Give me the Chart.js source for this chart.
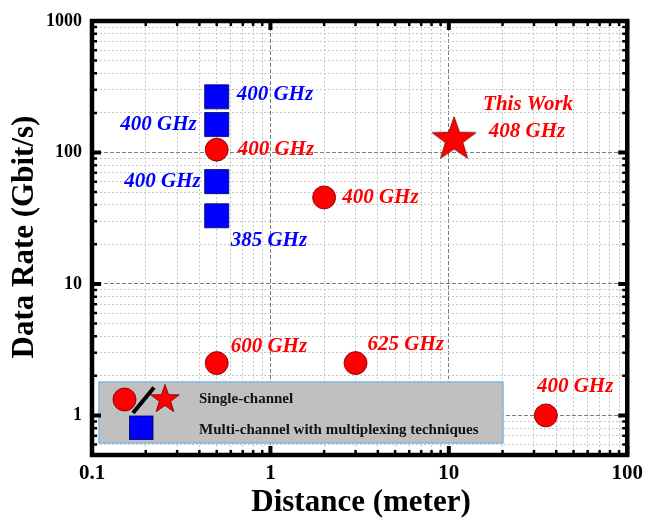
<!DOCTYPE html>
<html>
<head>
<meta charset="utf-8">
<script src="https://cdn.jsdelivr.net/npm/chart.js@4/dist/chart.umd.min.js"></script>
<style>
  html, body { margin: 0; padding: 0; background: #fff; }
  canvas { display: block; }
</style>
</head>
<body>
<canvas id="graphique" width="649" height="519"></canvas>
<script>
// Données (distance en mètres, débit en Gbit/s)
const distanceSingle = [0.5, 2, 0.5, 3, 35];
const debitSingle = [105, 45.5, 2.5, 2.5, 1];
const freqSingle = ["400 GHz", "400 GHz", "600 GHz", "625 GHz", "400 GHz"];

const distanceMulti = [0.5, 0.5, 0.5, 0.5];
const debitMulti = [265, 163, 60, 33];
const freqMulti = ["400 GHz", "400 GHz", "400 GHz", "385 GHz"];

const distanceWork = [10.7];
const debitWork = [125];
const texteWork = ["This Work", "408 GHz"];

const xTickLabels = ["0.1", "1", "10", "100"];   // 10^-1 .. 10^2
const yTickLabels = ["1", "10", "100", "1000"];  // 10^0 .. 10^3
const legendeTextes = ["Single-channel", "Multi-channel with multiplexing techniques"];

// Placement des étiquettes (décalage en pixels par rapport au point)
const placeSingle = [
    { dx: 21, dy: 0, align: "left" },
    { dx: 18, dy: 0, align: "left" },
    { dx: 14, dy: -17, align: "left" },
    { dx: 12, dy: -19, align: "left" },
    { dx: -9, dy: -29, align: "left" },
];
const placeMulti = [
    { dx: 20, dy: -2, align: "left" },
    { dx: -20, dy: 0, align: "right" },
    { dx: -16, dy: 0, align: "right" },
    { dx: 14, dy: 25, align: "left" },
];
const placeWork = [
    { dx: 74, dy: -35, align: "center" },
    { dx: 73, dy: -8, align: "center" },
];

const ROUGE = "#ff0000";
const BLEU = "#0000ff";
const SERIF = '"Liberation Serif", "Times New Roman", serif';

function estDecade(v) {
    const l = Math.log10(v);
    return Math.abs(l - Math.round(l)) < 1e-9;
}

function graduationsLog(min, max) {
    // 1..9 x 10^n entre min et max
    const liste = [];
    for (let e = Math.floor(Math.log10(min)); e <= Math.ceil(Math.log10(max)); e++) {
        for (let s = 1; s <= 9; s++) {
            const v = parseFloat((s * Math.pow(10, e)).toPrecision(6));
            if (v >= min - 1e-12 && v <= max + 1e-12) liste.push(v);
        }
    }
    return liste;
}

function tracerEtoile(ctx, cx, cy, R, r) {
    ctx.beginPath();
    for (let i = 0; i < 10; i++) {
        const rad = i % 2 === 0 ? R : r;
        const a = -Math.PI / 2 + i * Math.PI / 5;
        ctx.lineTo(cx + rad * Math.cos(a), cy + rad * Math.sin(a));
    }
    ctx.closePath();
}

function imageEtoile(R) {
    const c = document.createElement("canvas");
    const taille = Math.ceil(R * 2 + 4);
    c.width = taille;
    c.height = taille;
    const g = c.getContext("2d");
    tracerEtoile(g, taille / 2, taille / 2, R, R * 0.4);
    g.fillStyle = ROUGE;
    g.fill();
    g.strokeStyle = "rgba(110,0,0,0.8)";
    g.lineWidth = 1;
    g.stroke();
    return c;
}

const etoile = imageEtoile(23);

function echelle(min, max, labels, decalage, pad, taille) {
    return {
        type: "logarithmic",
        min: min,
        max: max,
        afterBuildTicks: (scale) => {
            scale.ticks = graduationsLog(min, max).map(v => ({ value: v }));
        },
        grid: {
            drawTicks: false,
            color: (c) => (c.tick && estDecade(c.tick.value)) ? "#7d7d7d" : "#c6c6c6",
            lineWidth: 1,
        },
        border: {
            display: false,
            dash: (c) => (c.tick && estDecade(c.tick.value)) ? [4, 2] : [2, 2],
        },
        ticks: {
            autoSkip: false,
            maxRotation: 0,
            padding: pad,
            color: "#000",
            font: { family: SERIF, size: taille, weight: "bold" },
            callback: (v) => estDecade(v) ? labels[Math.round(Math.log10(v)) + decalage] : "",
        },
    };
}

const etiquettesPlugin = {
    id: "etiquettes",
    afterDatasetsDraw(chart) {
        const ctx = chart.ctx;
        const x = chart.scales.x;
        const y = chart.scales.y;

        // légende en boîte grise
        const bx = 99, by = 382;
        ctx.save();
        ctx.fillStyle = "#c0c0c0";
        ctx.fillRect(bx, by, 404, 61);
        ctx.strokeStyle = "#7fb6e0";
        ctx.lineWidth = 1.5;
        ctx.strokeRect(bx, by, 404, 61);

        ctx.beginPath();
        ctx.arc(bx + 25.5, by + 17.5, 11.5, 0, Math.PI * 2);
        ctx.fillStyle = ROUGE;
        ctx.fill();
        ctx.strokeStyle = "rgba(110,0,0,0.8)";
        ctx.lineWidth = 1;
        ctx.stroke();

        ctx.beginPath();
        ctx.moveTo(bx + 34, by + 31);
        ctx.lineTo(bx + 55, by + 5.5);
        ctx.strokeStyle = "#000";
        ctx.lineWidth = 4;
        ctx.stroke();

        tracerEtoile(ctx, bx + 66, by + 17.5, 15, 6);
        ctx.fillStyle = ROUGE;
        ctx.fill();
        ctx.strokeStyle = "rgba(110,0,0,0.8)";
        ctx.lineWidth = 1;
        ctx.stroke();

        ctx.fillStyle = BLEU;
        ctx.fillRect(bx + 30.5, by + 34, 23.5, 23.5);
        ctx.strokeStyle = "rgba(0,0,80,0.8)";
        ctx.strokeRect(bx + 30.5, by + 34, 23.5, 23.5);

        ctx.fillStyle = "#111";
        ctx.font = "bold 15px " + SERIF;
        ctx.textAlign = "left";
        ctx.textBaseline = "middle";
        ctx.fillText(legendeTextes[0], bx + 100, by + 17.5);
        ctx.fillText(legendeTextes[1], bx + 100, by + 48);

        // étiquettes de fréquence
        ctx.font = "italic bold 21px " + SERIF;
        const ecrire = (texte, vx, vy, p, couleur) => {
            ctx.fillStyle = couleur;
            ctx.textAlign = p.align;
            ctx.fillText(texte, x.getPixelForValue(vx) + p.dx, y.getPixelForValue(vy) + p.dy);
        };
        freqSingle.forEach((t, i) => ecrire(t, distanceSingle[i], debitSingle[i], placeSingle[i], ROUGE));
        freqMulti.forEach((t, i) => ecrire(t, distanceMulti[i], debitMulti[i], placeMulti[i], BLEU));
        texteWork.forEach((t, i) => ecrire(t, distanceWork[0], debitWork[0], placeWork[i], ROUGE));
        ctx.restore();
    },
    afterDraw(chart) {
        const ctx = chart.ctx;
        const a = chart.chartArea;
        ctx.save();
        ctx.strokeStyle = "#000";

        // graduations vers l'intérieur, sur les quatre côtés
        chart.scales.x.ticks.forEach(t => {
            const px = chart.scales.x.getPixelForValue(t.value);
            const maj = estDecade(t.value);
            const l = maj ? 9 : 5;
            ctx.lineWidth = maj ? 4 : 2.5;
            ctx.beginPath();
            ctx.moveTo(px, a.bottom); ctx.lineTo(px, a.bottom - l);
            ctx.moveTo(px, a.top); ctx.lineTo(px, a.top + l);
            ctx.stroke();
        });
        chart.scales.y.ticks.forEach(t => {
            const py = chart.scales.y.getPixelForValue(t.value);
            const maj = estDecade(t.value);
            const l = maj ? 9 : 5;
            ctx.lineWidth = maj ? 4 : 2.5;
            ctx.beginPath();
            ctx.moveTo(a.left, py); ctx.lineTo(a.left + l, py);
            ctx.moveTo(a.right, py); ctx.lineTo(a.right - l, py);
            ctx.stroke();
        });

        ctx.lineWidth = 4.5;
        ctx.strokeRect(a.left, a.top, a.right - a.left, a.bottom - a.top);

        // titres des axes
        ctx.fillStyle = "#000";
        ctx.font = "bold 31px " + SERIF;
        ctx.textAlign = "center";
        ctx.textBaseline = "middle";
        ctx.fillText("Distance (meter)", 361, 503);
        ctx.translate(25, 237);
        ctx.rotate(-Math.PI / 2);
        ctx.fillText("Data Rate (Gbit/s)", 0, 0);
        ctx.restore();
    },
};

const canvas = document.getElementById("graphique");

new Chart(canvas.getContext("2d"), {
    type: "scatter",
    data: {
        datasets: [
            {
                label: "Multi-channel",
                data: distanceMulti.map((d, i) => ({ x: d, y: debitMulti[i] })),
                pointStyle: "rect",
                pointRadius: 17,
                pointHoverRadius: 17,
                backgroundColor: BLEU,
                borderColor: "rgba(0,0,80,0.8)",
                borderWidth: 1,
            },
            {
                label: "Single-channel",
                data: distanceSingle.map((d, i) => ({ x: d, y: debitSingle[i] })),
                pointStyle: "circle",
                pointRadius: 11.5,
                pointHoverRadius: 11.5,
                backgroundColor: ROUGE,
                borderColor: "rgba(110,0,0,0.8)",
                borderWidth: 1,
            },
            {
                label: "This Work",
                data: distanceWork.map((d, i) => ({ x: d, y: debitWork[i] })),
                pointStyle: etoile,
                backgroundColor: ROUGE,
            },
        ],
    },
    options: {
        responsive: false,
        animation: false,
        events: [],
        layout: { padding: { top: 21, right: 21, left: 0, bottom: 0 } },
        scales: {
            x: Object.assign(echelle(0.1, 100, xTickLabels, 1, 6, 21), {
                afterFit: (s) => { s.height = 64; },
            }),
            y: Object.assign(echelle(0.5, 1000, yTickLabels, 0, 10, 18), {
                afterFit: (s) => { s.width = 92; },
            }),
        },
        plugins: {
            legend: { display: false },
            tooltip: { enabled: false },
        },
    },
    plugins: [etiquettesPlugin],
});
</script>
</body>
</html>
